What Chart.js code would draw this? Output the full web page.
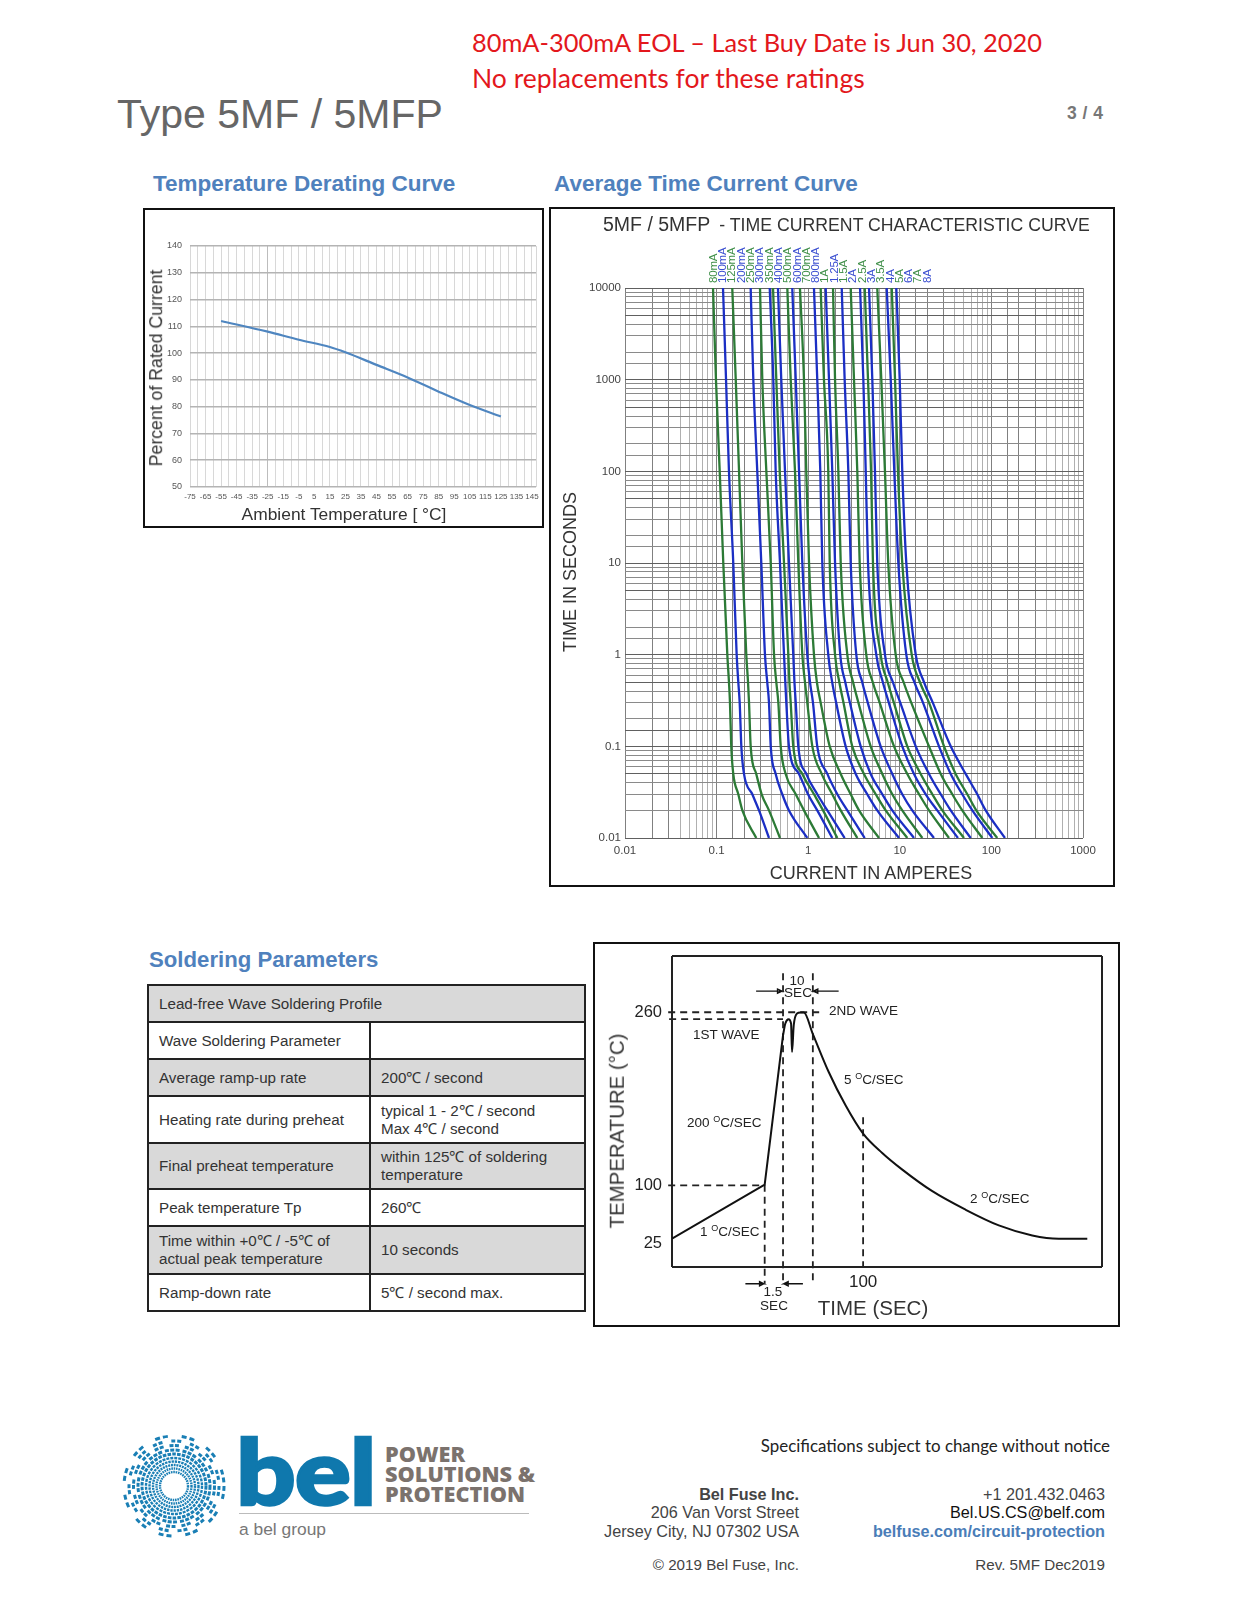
<!DOCTYPE html>
<html>
<head>
<meta charset="utf-8">
<title>Type 5MF / 5MFP</title>
<script src="https://cdn.jsdelivr.net/npm/chart.js@4"></script>
<style>
html,body{margin:0;padding:0;background:#fff;}
#page{position:relative;width:1242px;height:1600px;overflow:hidden;font-family:"Liberation Sans",Arial,sans-serif;}
.t{position:absolute;white-space:nowrap;transform:translateY(-50%);line-height:1;}
.r{transform:translate(-50%,-50%) rotate(-90deg);}
.c{transform:translate(-50%,-50%);}
.red{font-family:Lato,sans-serif;color:#e3171c;left:472px;}
.head{font-weight:bold;font-size:22.5px;color:#4f81bd;}
.box{position:absolute;border:2px solid #111;box-sizing:border-box;}
canvas{position:absolute;}
.note{font-size:13.5px;color:#222;}
.note sup{font-size:9px;line-height:0;}
.addr{font-size:16.2px;color:#444;text-align:right;}
.pow{left:385px;font-family:'Open Sans',sans-serif;font-weight:800;font-size:21.7px;color:#7b726d;}
table{position:absolute;left:147px;top:984px;width:439px;border-collapse:collapse;table-layout:fixed;font-size:15.2px;color:#333;}
td{border:2px solid #222;padding:0 0 0 10px;line-height:18px;box-sizing:border-box;}
tr.g td{background:#d9d9d9;}
</style>
</head>
<body>
<div id="page">
  <div class="t red" style="top:43px;font-size:25.4px">80mA-300mA EOL – Last Buy Date is Jun 30, 2020</div>
  <div class="t red" style="top:78px;font-size:26.5px">No replacements for these ratings</div>
  <div class="t" style="left:117px;top:114px;font-size:41px;color:#666">Type 5MF / 5MFP</div>
  <div class="t" style="left:1067px;top:114px;font-size:17.5px;letter-spacing:0.5px;font-weight:bold;color:#777">3 / 4</div>

  <div class="t head" style="left:153px;top:184px">Temperature Derating Curve</div>
  <div class="t head" style="left:554px;top:184px">Average Time Current Curve</div>
  <div class="t head" style="left:149px;top:960px;font-size:22.2px">Soldering Parameters</div>

  <div class="box" style="left:143px;top:208px;width:401px;height:320px"></div>
  <canvas id="deratingChart" style="left:147px;top:212px"></canvas>
  <div class="t r" style="left:157px;top:368px;font-size:17.7px;color:#333">Percent of Rated Current</div>
  <div class="t c" style="left:344px;top:515px;font-size:17.4px;color:#333">Ambient Temperature [ °C]</div>

  <div class="box" style="left:549px;top:207px;width:566px;height:680px"></div>
  <canvas id="timeCurrentChart" style="left:551px;top:211px"></canvas>
  <div class="t" style="left:603px;top:225px;font-size:19.5px;color:#333">5MF / 5MFP <span style="font-size:17.7px;margin-left:4px">- TIME CURRENT CHARACTERISTIC CURVE</span></div>
  <div class="t r" style="left:570px;top:572px;font-size:18px;color:#333">TIME IN SECONDS</div>
  <div class="t c" style="left:871px;top:873px;font-size:18px;color:#333">CURRENT IN AMPERES</div>
  <div id="curveLabels"></div>

  <table>
    <colgroup><col style="width:222px"><col></colgroup>
    <tr class="g" style="height:37px"><td colspan="2">Lead-free Wave Soldering Profile</td></tr>
    <tr style="height:37px"><td>Wave Soldering Parameter</td><td></td></tr>
    <tr class="g" style="height:37px"><td>Average ramp-up rate</td><td>200℃ / second</td></tr>
    <tr style="height:47px"><td>Heating rate during preheat</td><td>typical 1 - 2℃ / second<br>Max 4℃ / second</td></tr>
    <tr class="g" style="height:46px"><td>Final preheat temperature</td><td>within 125℃ of soldering<br>temperature</td></tr>
    <tr style="height:37px"><td>Peak temperature Tp</td><td>260℃</td></tr>
    <tr class="g" style="height:48px"><td>Time within +0℃ / -5℃ of<br>actual peak temperature</td><td>10 seconds</td></tr>
    <tr style="height:37px"><td>Ramp-down rate</td><td>5℃ / second max.</td></tr>
  </table>

  <div class="box" style="left:593px;top:942px;width:527px;height:385px"></div>
  <canvas id="solderingChart" style="left:596px;top:926px"></canvas>
  <div class="t r" style="left:617px;top:1131px;font-size:20.4px;color:#333">TEMPERATURE (°C)</div>
  <div class="t c" style="left:873px;top:1308px;font-size:20.5px;color:#333">TIME (SEC)</div>
  <div class="t c note" style="left:797px;top:981px">10</div>
  <div class="t c note" style="left:798px;top:993px">SEC</div>
  <div class="t note" style="left:829px;top:1011px">2ND WAVE</div>
  <div class="t note" style="left:693px;top:1035px">1ST WAVE</div>
  <div class="t note" style="left:844px;top:1080px">5 <sup>O</sup>C/SEC</div>
  <div class="t note" style="left:687px;top:1123px">200 <sup>O</sup>C/SEC</div>
  <div class="t note" style="left:700px;top:1232px">1 <sup>O</sup>C/SEC</div>
  <div class="t note" style="left:970px;top:1199px">2 <sup>O</sup>C/SEC</div>
  <div class="t c note" style="left:773px;top:1292px">1.5</div>
  <div class="t c note" style="left:774px;top:1306px">SEC</div>

  <svg id="logoRings" style="position:absolute;left:118px;top:1430px" width="112" height="112"></svg>
  <div class="t" style="left:236px;top:1470px;font-family:Lato,sans-serif;font-weight:900;font-size:92px;color:#0f78ad;letter-spacing:-1px;-webkit-text-stroke:2.5px #0f78ad;transform-origin:0 50%;transform:translateY(-50%) scaleX(1.14)">bel</div>
  <div class="t pow" style="top:1454px">POWER</div>
  <div class="t pow" style="top:1474px">SOLUTIONS &amp;</div>
  <div class="t pow" style="top:1494px">PROTECTION</div>
  <div style="position:absolute;left:239px;top:1513px;width:290px;height:1px;background:#bbb"></div>
  <div class="t" style="left:239px;top:1530px;font-size:17.4px;color:#777">a bel group</div>

  <div class="t" style="right:132px;top:1446px;font-family:Lato,sans-serif;font-size:16.9px;color:#222">Specifications subject to change without notice</div>
  <div class="t addr" style="right:443px;top:1494px;font-weight:bold">Bel Fuse Inc.</div>
  <div class="t addr" style="right:443px;top:1512px">206 Van Vorst Street</div>
  <div class="t addr" style="right:443px;top:1531px">Jersey City, NJ 07302 USA</div>
  <div class="t addr" style="right:443px;top:1565px;font-size:15.2px">© 2019 Bel Fuse, Inc.</div>
  <div class="t addr" style="right:137px;top:1494px">+1 201.432.0463</div>
  <div class="t addr" style="right:137px;top:1512px;color:#111">Bel.US.CS@belf.com</div>
  <div class="t addr" style="right:137px;top:1531px;color:#4a7db8;font-weight:bold">belfuse.com/circuit-protection</div>
  <div class="t addr" style="right:137px;top:1565px;font-size:15.2px">Rev. 5MF Dec2019</div>
</div>

<script>
// temperature derating curve
const deratingTemps = [-55, -25, -5, 15, 25, 45, 65, 85, 105, 125];
const deratingPercent = [112, 108, 105, 102.3, 100.3, 95.6, 90.9, 85.6, 80.6, 76.3];
const deratingTempLabels = [-75, -65, -55, -45, -35, -25, -15, -5, 5, 15, 25, 35, 45, 55, 65, 75, 85, 95, 105, 115, 125, 135, 145];

// time current curves, one entry per rating in every row below
const curveNames = ["80mA", "100mA", "125mA", "200mA", "250mA", "300mA", "350mA", "400mA", "500mA", "600mA", "700mA", "800mA",
    "1A", "1.25A", "1.5A", "2A", "2.5A", "3A", "3.5A", "4A", "5A", "6A", "7A", "8A"];
const timeLevels = [10000, 1000, 100, 10, 1, 0.5, 0.3, 0.1, 0.05, 0.03, 0.02, 0.01];
// log10 of the current in amperes read at each time level
const logAmpsAt10000s = [-1.039, -0.930, -0.829, -0.628, -0.526, -0.420, -0.384, -0.330, -0.228, -0.174, -0.090, 0.063, 0.136, 0.191, 0.271, 0.366, 0.464, 0.566, 0.617, 0.664, 0.754, 0.857, 0.912, 0.962];
const logAmpsAt1000s = [-1.007, -0.897, -0.791, -0.599, -0.501, -0.381, -0.348, -0.294, -0.191, -0.136, -0.046, 0.099, 0.172, 0.227, 0.293, 0.398, 0.500, 0.602, 0.653, 0.700, 0.798, 0.901, 0.948, 0.999];
const logAmpsAt100s = [-0.966, -0.865, -0.755, -0.556, -0.457, -0.355, -0.311, -0.253, -0.144, -0.100, -0.021, 0.132, 0.219, 0.263, 0.329, 0.438, 0.536, 0.628, 0.686, 0.729, 0.838, 0.940, 0.980, 1.027];
const logAmpsAt10s = [-0.927, -0.818, -0.719, -0.512, -0.409, -0.308, -0.264, -0.210, -0.108, -0.064, 0.009, 0.154, 0.235, 0.293, 0.355, 0.464, 0.562, 0.653, 0.707, 0.754, 0.874, 0.984, 1.027, 1.071];
const logAmpsAt1s = [-0.883, -0.781, -0.676, -0.472, -0.373, -0.264, -0.217, -0.163, -0.064, -0.010, 0.063, 0.219, 0.293, 0.350, 0.427, 0.525, 0.634, 0.743, 0.791, 0.838, 0.955, 1.071, 1.130, 1.174];
const logAmpsAt05s = [-0.865, -0.763, -0.657, -0.447, -0.348, -0.250, -0.205, -0.150, -0.035, 0.020, 0.095, 0.262, 0.340, 0.405, 0.490, 0.590, 0.705, 0.815, 0.868, 0.925, 1.042, 1.160, 1.220, 1.265];
const logAmpsAt03s = [-0.854, -0.748, -0.646, -0.428, -0.326, -0.239, -0.191, -0.136, -0.010, 0.052, 0.136, 0.305, 0.385, 0.455, 0.548, 0.650, 0.780, 0.880, 0.935, 1.005, 1.125, 1.253, 1.319, 1.360];
const logAmpsAt01s = [-0.840, -0.730, -0.628, -0.409, -0.300, -0.210, -0.163, -0.108, 0.045, 0.099, 0.235, 0.409, 0.481, 0.573, 0.682, 0.791, 0.937, 1.027, 1.082, 1.174, 1.319, 1.428, 1.483, 1.556];
const logAmpsAt005s = [-0.818, -0.701, -0.567, -0.355, -0.246, -0.100, -0.064, -0.021, 0.147, 0.209, 0.355, 0.519, 0.609, 0.682, 0.809, 0.918, 1.082, 1.155, 1.228, 1.319, 1.447, 1.556, 1.610, 1.719];
const logAmpsAt003s = [-0.763, -0.610, -0.508, -0.283, -0.136, -0.002, 0.063, 0.099, 0.263, 0.318, 0.464, 0.645, 0.737, 0.809, 0.918, 1.027, 1.210, 1.283, 1.355, 1.447, 1.573, 1.682, 1.737, 1.846];
const logAmpsAt002s = [-0.719, -0.537, -0.428, -0.210, -0.046, 0.099, 0.162, 0.209, 0.355, 0.427, 0.555, 0.754, 0.846, 0.918, 1.027, 1.136, 1.319, 1.409, 1.464, 1.556, 1.682, 1.792, 1.835, 1.938];
const logAmpsAt001s = [-0.567, -0.428, -0.308, -0.010, 0.118, 0.263, 0.318, 0.398, 0.536, 0.617, 0.773, 0.991, 1.082, 1.155, 1.246, 1.373, 1.537, 1.635, 1.701, 1.774, 1.901, 2.010, 2.064, 2.148];
const timeRows = [logAmpsAt10000s, logAmpsAt1000s, logAmpsAt100s, logAmpsAt10s, logAmpsAt1s, logAmpsAt05s, logAmpsAt03s, logAmpsAt01s, logAmpsAt005s, logAmpsAt003s, logAmpsAt002s, logAmpsAt001s];
const timeTickLabels = ["10000", "1000", "100", "10", "1", "0.1", "0.01"];
const currentTickLabels = ["0.01", "0.1", "1", "10", "100", "1000"];

// soldering profile, the drawing is a sketch so the values are in its own axis units
const rampTime = [0, 48.5, 58.1];
const rampTemp = [50.7, 100.6, 238.8];
const peakTime = [58.1, 59.3, 61, 62.3, 62.8, 63.7, 65.4, 67.2, 69, 73.6, 82, 90.8, 100, 110, 120.5, 136, 153.6, 171, 188.5, 202.4, 217.3];
const peakTemp = [238.8, 249.6, 253.6, 249.6, 223.3, 248, 258.8, 259.7, 259.7, 240.3, 204.8, 174, 147.8, 129.9, 114.5, 94.8, 77.5, 63, 53.7, 50.7, 50.7];
const profileTempTicks = [24.5, 46.3, 100, 260, 312];
const profileTempLabels = ["", "25", "100", "260", ""];
const profileTimeTicks = [0, 100, 225];
const profileTimeLabels = ["", "100", ""];
const dashedX = [[-2, 77.7], [-1.5, 58.1], [-2, 48.5], [48.5, 48.5], [58.1, 58.1], [73.7, 73.7], [100, 100]];
const dashedY = [[260, 260], [253.6, 253.6], [100, 100], [100.6, 9], [296, 9], [296, 9], [163, 24.5]];
const arrowX = [[44, 57.6, 55.2, 55.2, 57.6], [87.2, 73.9, 76.3, 76.3, 73.9], [38.4, 48.2, 45.8, 45.8, 48.2], [68.5, 58.4, 60.8, 60.8, 58.4]];
const arrowY = [[279.5, 279.5, 281.5, 277.5, 279.5], [279.5, 279.5, 281.5, 277.5, 279.5], [9, 9, 11, 7, 9], [9, 9, 11, 7, 9]];

const curveGreen = "#2c7a36";
const curveBlue = "#1b2fc4";

Chart.defaults.font.family = '"Liberation Sans", Arial, sans-serif';
Chart.defaults.animation = false;
Chart.defaults.responsive = false;
Chart.defaults.plugins.legend.display = false;
Chart.defaults.plugins.tooltip.enabled = false;

function setSize(id, w, h) {
    const c = document.getElementById(id);
    c.width = w;
    c.height = h;
    return c;
}

new Chart(setSize("deratingChart", 394, 315), {
    type: "line",
    data: {
        datasets: [{
            data: deratingTemps.map((t, i) => ({x: t, y: deratingPercent[i]})),
            borderColor: "#4f86c0",
            borderWidth: 2.2,
            pointRadius: 0,
            cubicInterpolationMode: "monotone"
        }]
    },
    options: {
        layout: {padding: {top: 34, right: 4}},
        scales: {
            x: {
                type: "linear", min: -75, max: 147.6,
                afterFit: s => { s.height = 40; },
                // the scale swallows the tick next to max, put 145 back
                afterBuildTicks: s => {
                    if (!s.ticks.some(t => t.value === 145)) {
                        s.ticks.push({value: 145});
                        s.ticks.sort((a, b) => a.value - b.value);
                    }
                },
                grid: {
                    drawTicks: false,
                    color: c => c.tick.value === -25 ? "#bdbdbd" : "#d8d8d8",
                    lineWidth: 1
                },
                border: {display: false},
                ticks: {
                    stepSize: 5, autoSkip: false, maxRotation: 0, padding: 5,
                    color: "#555", font: {size: 8},
                    callback: v => deratingTempLabels.includes(v) ? String(v) : ""
                }
            },
            y: {
                min: 50, max: 140,
                afterFit: s => { s.width = 43; },
                grid: {drawTicks: false, color: "#b4b4b4", lineWidth: 1.5},
                border: {display: false},
                ticks: {stepSize: 10, padding: 8, color: "#555", font: {size: 9}}
            }
        }
    }
});

function leadDigit(v) {
    return Number(v.toExponential(0)[0]);
}
function logLabel(list, v) {
    const s = String(Number(v.toPrecision(2)));
    return list.includes(s) ? s : "";
}

new Chart(setSize("timeCurrentChart", 562, 675), {
    type: "line",
    data: {
        datasets: curveNames.map((name, i) => ({
            label: name,
            data: timeLevels.map((t, r) => ({x: 10 ** timeRows[r][i], y: t})),
            borderColor: i % 2 === 0 ? curveGreen : curveBlue,
            borderWidth: 2.3,
            pointRadius: 0,
            cubicInterpolationMode: "monotone"
        }))
    },
    options: {
        layout: {padding: {top: 77, right: 30}},
        scales: {
            x: {
                type: "logarithmic", min: 0.01, max: 1000,
                afterFit: s => { s.height = 48; },
                grid: {
                    drawTicks: false,
                    color: c => leadDigit(c.tick.value) <= 3 ? "#808080" : "#b0b0b0",
                    lineWidth: 1
                },
                border: {display: false},
                ticks: {
                    autoSkip: false, maxRotation: 0, padding: 6,
                    color: "#444", font: {size: 11.5},
                    callback: v => logLabel(currentTickLabels, v)
                }
            },
            y: {
                type: "logarithmic", min: 0.01, max: 10000,
                afterFit: s => { s.width = 74; },
                grid: {
                    drawTicks: false,
                    color: c => {
                        const d = leadDigit(c.tick.value);
                        return d === 1 || d === 5 ? "#606060" : "#8a8a8a";
                    },
                    lineWidth: 1
                },
                border: {display: false},
                ticks: {
                    autoSkip: false, padding: 4,
                    color: "#444", font: {size: 11.5},
                    callback: v => logLabel(timeTickLabels, v)
                }
            }
        }
    }
});

// rating names standing above the curves
const labelBox = document.getElementById("curveLabels");
curveNames.forEach((name, i) => {
    const el = document.createElement("div");
    el.className = "t";
    el.textContent = name;
    el.style.cssText = "left:" + (713.8 + i * 9.3) + "px;top:283px;font-size:11.5px;letter-spacing:-0.2px;transform-origin:0 0;" +
        "transform:rotate(-90deg) translateY(-50%);color:" + (i % 2 === 0 ? "#3f8f48" : "#3a4ed0");
    labelBox.appendChild(el);
});

const solderSets = [{
    data: rampTime.map((t, i) => ({x: t, y: rampTemp[i]})),
    borderColor: "#111", borderWidth: 2, pointRadius: 0
}, {
    data: peakTime.map((t, i) => ({x: t, y: peakTemp[i]})),
    borderColor: "#111", borderWidth: 2, pointRadius: 0, cubicInterpolationMode: "monotone"
}];
dashedX.forEach((xs, i) => solderSets.push({
    data: xs.map((x, k) => ({x: x, y: dashedY[i][k]})),
    borderColor: "#222", borderWidth: 1.8, borderDash: [7, 5], pointRadius: 0, clip: false
}));
arrowX.forEach((xs, i) => solderSets.push({
    data: xs.map((x, k) => ({x: x, y: arrowY[i][k]})),
    borderColor: "#111", borderWidth: 1.3, pointRadius: 0, clip: false
}));

new Chart(setSize("solderingChart", 522, 401), {
    type: "line",
    data: {datasets: solderSets},
    options: {
        layout: {padding: {top: 30, right: 16}},
        scales: {
            x: {
                type: "linear", min: 0, max: 225,
                afterFit: s => { s.height = 60; },
                afterBuildTicks: s => { s.ticks = profileTimeTicks.map(v => ({value: v})); },
                grid: {
                    drawTicks: false,
                    color: c => c.index === 1 ? "transparent" : "#222",
                    lineWidth: 2
                },
                border: {display: false},
                ticks: {
                    autoSkip: false, maxRotation: 0, padding: 5,
                    color: "#222", font: {size: 17},
                    callback: (v, i) => profileTimeLabels[i]
                }
            },
            y: {
                min: 24.5, max: 312,
                afterFit: s => { s.width = 76; },
                afterBuildTicks: s => { s.ticks = profileTempTicks.map(v => ({value: v})); },
                grid: {
                    drawTicks: false,
                    color: c => c.index === 0 || c.index === 4 ? "#222" : "transparent",
                    lineWidth: 2
                },
                border: {display: false},
                ticks: {
                    autoSkip: false, padding: 10,
                    color: "#222", font: {size: 16.5},
                    callback: (v, i) => profileTempLabels[i]
                }
            }
        }
    }
});

// logo rings
const ringRadius = [14, 17.5, 21, 24.5, 28, 32, 36, 40.5, 45, 50];
const ringDash = ["1.6 0.8", "1.6 0.8", "2 0.8", "2.4 0.9", "3 1", "3.6 1.2", "4 1.4 4 1.4 4 3", "4 1.5 4 6", "4 2 4 9", "5 3 5 14"];
document.getElementById("logoRings").innerHTML = ringRadius.map((r, i) =>
    '<circle cx="56" cy="56" r="' + r + '" fill="none" stroke="#1a7fb5" stroke-width="' + (i < 5 ? 2.4 : 3) + '" stroke-dasharray="' + ringDash[i] + '"/>'
).join("");
</script>
</body>
</html>
